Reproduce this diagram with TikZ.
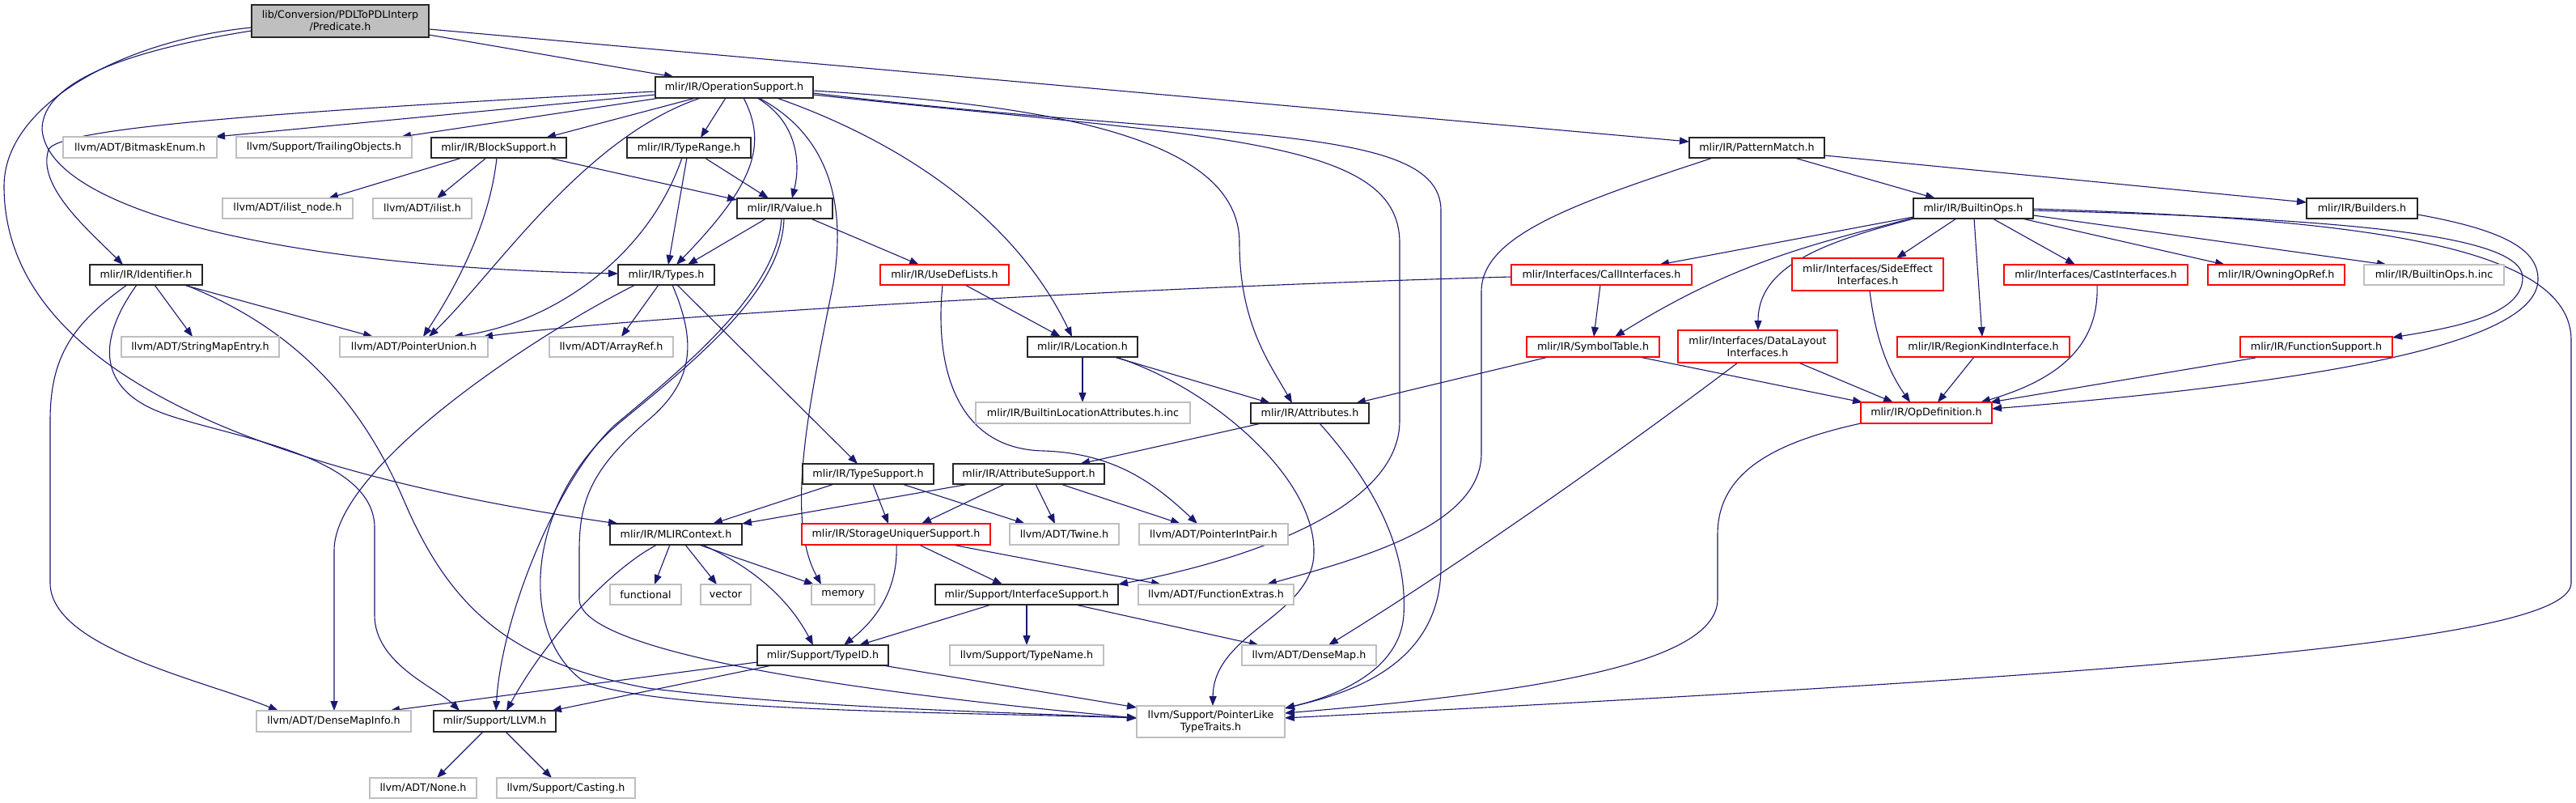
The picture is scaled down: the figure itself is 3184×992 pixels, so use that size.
\documentclass[tikz,border=0pt]{standalone}
\usepackage{fontspec}
\setmainfont{DejaVu Sans}
\usetikzlibrary{arrows.meta}
\definecolor{edgec}{HTML}{191970}
\definecolor{grayb}{HTML}{BFBFBF}
\definecolor{redb}{HTML}{FF0000}
\pgfdeclarelayer{bg}
\pgfsetlayers{bg,main}
\newcommand{\mkbox}[7]{\node[#6, minimum width={(#4-#2)*1pt}, minimum height={(#5-#3)*1pt}] (#1) at ({(#2+#4)/2},{(#3+#5)/2}) {#7};}
\tikzset{
  nbase/.style={rectangle, inner sep=0pt, outer sep=0pt, line width=1.2pt, fill=white,
    font=\fontsize{12.7}{15}\selectfont, align=center, text=black},
  blk/.style={nbase, draw=black!85},
  gry/.style={nbase, draw=grayb},
  redbox/.style={nbase, draw=redb},
  root/.style={nbase, draw=black!85, fill=grayb},
  e/.style={draw=edgec, line width=1.1pt, -{Triangle[length=12pt,width=9pt]}}
}
\begin{document}
\begin{tikzpicture}[x=1pt,y=-1pt]
\useasboundingbox (0,0) rectangle (3184,992);
\begin{pgfonlayer}{bg}
\fill[white] (0,0) rectangle (3184,992);
\end{pgfonlayer}
\mkbox{P}{311}{6}{530}{46}{root}{lib/Conversion/PDLToPDLInterp\\/Predicate.h}
\mkbox{OS}{810}{95}{1005}{121}{blk}{mlir/IR/OperationSupport.h}
\mkbox{PM}{2088}{170}{2255}{195}{blk}{mlir/IR/PatternMatch.h}
\mkbox{BME}{78}{169}{268}{195}{gry}{llvm/ADT/BitmaskEnum.h}
\mkbox{TO}{292}{169}{509}{195}{gry}{llvm/Support/TrailingObjects.h}
\mkbox{BS}{533}{170}{700}{195}{blk}{mlir/IR/BlockSupport.h}
\mkbox{TR}{775}{170}{928}{195}{blk}{mlir/IR/TypeRange.h}
\mkbox{ILN}{275}{245}{436}{270}{gry}{llvm/ADT/ilist\_node.h}
\mkbox{IL}{461}{245}{583}{270}{gry}{llvm/ADT/ilist.h}
\mkbox{VAL}{911}{245}{1029}{270}{blk}{mlir/IR/Value.h}
\mkbox{BO}{2365}{245}{2513}{270}{blk}{mlir/IR/BuiltinOps.h}
\mkbox{BLD}{2851}{245}{2988}{270}{blk}{mlir/IR/Builders.h}
\mkbox{ID}{111}{327}{250}{352}{blk}{mlir/IR/Identifier.h}
\mkbox{TY}{764}{327}{883}{352}{blk}{mlir/IR/Types.h}
\mkbox{UDL}{1088}{327}{1247}{352}{redbox}{mlir/IR/UseDefLists.h}
\mkbox{CI}{1868}{327}{2091}{352}{redbox}{mlir/Interfaces/CallInterfaces.h}
\mkbox{SE}{2215}{319}{2402}{359}{redbox}{mlir/Interfaces/SideEffect\\Interfaces.h}
\mkbox{CAST}{2477}{327}{2704}{352}{redbox}{mlir/Interfaces/CastInterfaces.h}
\mkbox{OOR}{2729}{327}{2898}{352}{redbox}{mlir/IR/OwningOpRef.h}
\mkbox{BOI}{2922}{327}{3095}{352}{gry}{mlir/IR/BuiltinOps.h.inc}
\mkbox{SME}{150}{416}{345}{441}{gry}{llvm/ADT/StringMapEntry.h}
\mkbox{PU}{420}{416}{603}{441}{gry}{llvm/ADT/PointerUnion.h}
\mkbox{AR}{679}{416}{832}{441}{gry}{llvm/ADT/ArrayRef.h}
\mkbox{LOC}{1270}{416}{1406}{441}{blk}{mlir/IR/Location.h}
\mkbox{ST}{1887}{416}{2051}{441}{redbox}{mlir/IR/SymbolTable.h}
\mkbox{DL}{2074}{408}{2271}{448}{redbox}{mlir/Interfaces/DataLayout\\Interfaces.h}
\mkbox{RK}{2345}{416}{2558}{441}{redbox}{mlir/IR/RegionKindInterface.h}
\mkbox{FS}{2769}{416}{2957}{441}{redbox}{mlir/IR/FunctionSupport.h}
\mkbox{BLA}{1206}{497}{1471}{523}{gry}{mlir/IR/BuiltinLocationAttributes.h.inc}
\mkbox{ATTR}{1546}{498}{1692}{523}{blk}{mlir/IR/Attributes.h}
\mkbox{OD}{2300}{497}{2462}{523}{redbox}{mlir/IR/OpDefinition.h}
\mkbox{TS}{992}{573}{1154}{598}{blk}{mlir/IR/TypeSupport.h}
\mkbox{AS}{1178}{573}{1365}{598}{blk}{mlir/IR/AttributeSupport.h}
\mkbox{MC}{754}{647}{917}{673}{blk}{mlir/IR/MLIRContext.h}
\mkbox{SU}{991}{647}{1224}{673}{redbox}{mlir/IR/StorageUniquerSupport.h}
\mkbox{TW}{1248}{647}{1383}{673}{gry}{llvm/ADT/Twine.h}
\mkbox{PIP}{1408}{647}{1592}{673}{gry}{llvm/ADT/PointerIntPair.h}
\mkbox{FUN}{754}{722}{842}{747}{gry}{functional}
\mkbox{VEC}{866}{722}{928}{747}{gry}{vector}
\mkbox{MEM}{1003}{722}{1081}{747}{gry}{memory}
\mkbox{IS}{1156}{722}{1382}{747}{blk}{mlir/Support/InterfaceSupport.h}
\mkbox{FE}{1407}{722}{1599}{747}{gry}{llvm/ADT/FunctionExtras.h}
\mkbox{TID}{936}{797}{1098}{822}{blk}{mlir/Support/TypeID.h}
\mkbox{TN}{1174}{797}{1364}{822}{gry}{llvm/Support/TypeName.h}
\mkbox{DM}{1535}{797}{1701}{822}{gry}{llvm/ADT/DenseMap.h}
\mkbox{DMI}{317}{878}{508}{904}{gry}{llvm/ADT/DenseMapInfo.h}
\mkbox{LLVM}{536}{878}{687}{904}{blk}{mlir/Support/LLVM.h}
\mkbox{TT}{1405}{872}{1588}{911}{gry}{llvm/Support/PointerLike\\TypeTraits.h}
\mkbox{NONE}{457}{961}{589}{986}{gry}{llvm/ADT/None.h}
\mkbox{CAS}{614}{961}{785}{986}{gry}{llvm/Support/Casting.h}
\begin{pgfonlayer}{bg}
% Predicate
\draw[e] ([shift={(219,37)}]P.north west) -- ([shift={(23,0)}]OS.north west);
\draw[e] ([shift={(219,30)}]P.north west) -- ([shift={(0,5)}]PM.north west);
\draw[e] ([shift={(0,32)}]P.north west) .. controls (160,62) and (52,100) .. (52,160) .. controls (60,260) and (350,330) .. ([shift={(0,11)}]TY.north west);
\draw[e] ([shift={(0,28)}]P.north west) .. controls (150,50) and (5,130) .. (5,230) .. controls (5,450) and (300,580) .. ([shift={(10,0)}]MC.north west);
% OperationSupport
\draw[e] ([shift={(0,22)}]OS.north west) -- ([shift={(188,0)}]BME.north west);
\draw[e] ([shift={(6,26)}]OS.north west) -- ([shift={(204,0)}]TO.north west);
\draw[e] ([shift={(0,18)}]OS.north west) .. controls (300,140) and (70,160) .. (60,185) .. controls (45,230) and (110,285) .. ([shift={(41,0)}]ID.north west);
\draw[e] ([shift={(50,26)}]OS.north west) -- ([shift={(142,0)}]BS.north west);
\draw[e] ([shift={(56,26)}]OS.north west) .. controls (720,170) and (610,340) .. ([shift={(110,0)}]PU.north west);
\draw[e] ([shift={(87,26)}]OS.north west) -- ([shift={(91,0)}]TR.north west);
\draw[e] ([shift={(109,26)}]OS.north west) .. controls (950,180) and (930,230) .. ([shift={(72,0)}]TY.north west);
\draw[e] ([shift={(126,26)}]OS.north west) .. controls (985,150) and (990,200) .. ([shift={(68,0)}]VAL.north west);
\draw[e] ([shift={(128,26)}]OS.north west) .. controls (1030,170) and (1045,260) .. (1030,350) .. controls (1000,500) and (970,640) .. ([shift={(12,0)}]MEM.north west);
\draw[e] ([shift={(150,26)}]OS.north west) .. controls (1100,170) and (1250,260) .. ([shift={(55,0)}]LOC.north west);
\draw[e] ([shift={(195,17)}]OS.north west) .. controls (1300,130) and (1532,170) .. (1532,300) .. controls (1532,400) and (1570,450) .. ([shift={(51,0)}]ATTR.north west);
\draw[e] ([shift={(195,22)}]OS.north west) .. controls (1500,170) and (1730,170) .. (1730,300) -- (1730,520) .. controls (1730,640) and (1500,700) .. (IS.north east);
\draw[e] ([shift={(195,20)}]OS.north west) .. controls (1500,175) and (1781,150) .. (1781,260) -- (1781,700) .. controls (1781,830) and (1650,860) .. ([shift={(183,3)}]TT.north west);
% BlockSupport, TypeRange
\draw[e] ([shift={(38,25)}]BS.north west) -- ([shift={(131,0)}]ILN.north west);
\draw[e] ([shift={(68,25)}]BS.north west) -- ([shift={(79,0)}]IL.north west);
\draw[e] ([shift={(81,25)}]BS.north west) .. controls (605,280) and (560,360) .. ([shift={(103,0)}]PU.north west);
\draw[e] ([shift={(145,25)}]BS.north west) -- ([shift={(0,2)}]VAL.north west);
\draw[e] ([shift={(74,25)}]TR.north west) -- ([shift={(62,0)}]TY.north west);
\draw[e] ([shift={(96,25)}]TR.north west) -- ([shift={(39,0)}]VAL.north west);
\draw[e] ([shift={(68,25)}]TR.north west) .. controls (800,320) and (680,400) .. ([shift={(140,0)}]PU.north west);
% Value
\draw[e] ([shift={(36,25)}]VAL.north west) -- ([shift={(86,0)}]TY.north west);
\draw[e] ([shift={(91,25)}]VAL.north west) -- ([shift={(48,0)}]UDL.north west);
\draw[e] ([shift={(55,25)}]VAL.north west) .. controls (960,360) and (850,450) .. (760,525) .. controls (690,590) and (620,760) .. ([shift={(77,0)}]LLVM.north west);
\draw[e] ([shift={(58,25)}]VAL.north west) .. controls (967,360) and (856,448) .. (766,522) .. controls (650,620) and (640,780) .. (719,840) .. controls (800,880) and (1200,880) .. ([shift={(0,15)}]TT.north west);
% Types
\draw[e] ([shift={(50,25)}]TY.north west) -- ([shift={(89,0)}]AR.north west);
\draw[e] ([shift={(21,25)}]TY.north west) .. controls (650,420) and (413,580) .. (413,680) -- ([shift={(96,0)}]DMI.north west);
\draw[e] ([shift={(67,25)}]TY.north west) .. controls (860,420) and (860,470) .. (800,520) .. controls (730,580) and (716,620) .. (716,680) -- (716,740) .. controls (716,800) and (1000,850) .. ([shift={(0,15)}]TT.north west);
\draw[e] ([shift={(73,25)}]TY.north west) -- ([shift={(68,0)}]TS.north west);
% Identifier
\draw[e] ([shift={(80,25)}]ID.north west) -- ([shift={(88,0)}]SME.north west);
\draw[e] ([shift={(116,25)}]ID.north west) -- ([shift={(41,0)}]PU.north west);
\draw[e] ([shift={(46,25)}]ID.north west) .. controls (90,400) and (62,440) .. (62,520) -- (62,720) .. controls (62,800) and (250,840) .. ([shift={(27,0)}]DMI.north west);
\draw[e] ([shift={(58,25)}]ID.north west) .. controls (120,420) and (120,480) .. (200,510) .. controls (280,540) and (460,560) .. (463,650) -- (463,760) .. controls (463,820) and (540,850) .. ([shift={(32,0)}]LLVM.north west);
\draw[e] ([shift={(118,25)}]ID.north west) .. controls (350,400) and (440,480) .. (500,620) .. controls (560,760) and (640,820) .. (800,850) .. controls (1000,875) and (1250,880) .. ([shift={(0,15)}]TT.north west);
% MLIRContext
\draw[e] ([shift={(74,26)}]MC.north west) -- ([shift={(55,0)}]FUN.north west);
\draw[e] ([shift={(93,26)}]MC.north west) -- ([shift={(20,0)}]VEC.north west);
\draw[e] ([shift={(110,26)}]MC.north west) -- ([shift={(3,0)}]MEM.north west);
\draw[e] ([shift={(114,26)}]MC.north west) .. controls (930,700) and (975,740) .. ([shift={(69,0)}]TID.north west);
\draw[e] ([shift={(58,26)}]MC.north west) .. controls (760,700) and (680,780) .. ([shift={(90,0)}]LLVM.north west);
% TypeSupport, AttributeSupport
\draw[e] ([shift={(39,25)}]TS.north west) -- ([shift={(127,0)}]MC.north west);
\draw[e] ([shift={(87,25)}]TS.north west) -- ([shift={(107,0)}]SU.north west);
\draw[e] ([shift={(123,25)}]TS.north west) -- ([shift={(19,0)}]TW.north west);
\draw[e] ([shift={(20,25)}]AS.north west) -- (MC.north east);
\draw[e] ([shift={(64,25)}]AS.north west) -- ([shift={(148,0)}]SU.north west);
\draw[e] ([shift={(102,25)}]AS.north west) -- ([shift={(56,0)}]TW.north west);
\draw[e] ([shift={(133,25)}]AS.north west) -- ([shift={(51,0)}]PIP.north west);
% StorageUniquer, InterfaceSupport, TypeID, LLVM
\draw[e] ([shift={(145,26)}]SU.north west) -- ([shift={(83,0)}]IS.north west);
\draw[e] ([shift={(186,26)}]SU.north west) -- ([shift={(28,0)}]FE.north west);
\draw[e] ([shift={(117,26)}]SU.north west) .. controls (1110,720) and (1090,760) .. ([shift={(107,0)}]TID.north west);
\draw[e] ([shift={(69,25)}]IS.north west) -- ([shift={(126,0)}]TID.north west);
\draw[e] ([shift={(113,25)}]IS.north west) -- ([shift={(95,0)}]TN.north west);
\draw[e] ([shift={(173,25)}]IS.north west) -- ([shift={(21,0)}]DM.north west);
\draw[e] ([shift={(18,25)}]TID.north west) -- ([shift={(146,0)}]LLVM.north west);
\draw[e] ([shift={(0,21)}]TID.north west) -- ([shift={(165,0)}]DMI.north west);
\draw[e] ([shift={(155,25)}]TID.north west) -- ([shift={(0,2)}]TT.north west);
\draw[e] ([shift={(61,26)}]LLVM.north west) -- ([shift={(83,0)}]NONE.north west);
\draw[e] ([shift={(89,26)}]LLVM.north west) -- ([shift={(68,0)}]CAS.north west);
% UseDefLists, Location, Attributes
\draw[e] ([shift={(105,25)}]UDL.north west) -- ([shift={(41,0)}]LOC.north west);
\draw[e] ([shift={(77,25)}]UDL.north west) .. controls (1155,450) and (1180,555) .. (1290,557) .. controls (1380,560) and (1430,600) .. ([shift={(72,0)}]PIP.north west);
\draw[e] ([shift={(68,25)}]LOC.north west) -- ([shift={(132,0)}]BLA.north west);
\draw[e] ([shift={(107,25)}]LOC.north west) -- ([shift={(24,0)}]ATTR.north west);
\draw[e] ([shift={(109,25)}]LOC.north west) .. controls (1500,480) and (1624,590) .. (1624,680) .. controls (1626,760) and (1500,780) .. ([shift={(94,0)}]TT.north west);
\draw[e] ([shift={(13,25)}]ATTR.north west) -- ([shift={(157,0)}]AS.north west);
\draw[e] ([shift={(85,25)}]ATTR.north west) .. controls (1700,600) and (1740,680) .. (1735,760) .. controls (1730,830) and (1650,860) .. ([shift={(183,3)}]TT.north west);
% PatternMatch
\draw[e] ([shift={(130,25)}]PM.north west) -- ([shift={(27,0)}]BO.north west);
\draw[e] ([shift={(167,22)}]PM.north west) -- ([shift={(0,5)}]BLD.north west);
\draw[e] ([shift={(29,25)}]PM.north west) .. controls (1950,250) and (1831,290) .. (1831,360) -- (1831,560) .. controls (1831,650) and (1680,690) .. ([shift={(159,0)}]FE.north west);
% BuiltinOps
\draw[e] ([shift={(0,23)}]BO.north west) -- ([shift={(183,0)}]CI.north west);
\draw[e] ([shift={(0,24)}]BO.north west) .. controls (2250,300) and (2150,320) .. ([shift={(109,0)}]ST.north west);
\draw[e] ([shift={(1,25)}]BO.north west) .. controls (2250,300) and (2173,330) .. ([shift={(99,0)}]DL.north west);
\draw[e] ([shift={(53,25)}]BO.north west) -- ([shift={(129,0)}]SE.north west);
\draw[e] ([shift={(75,25)}]BO.north west) -- ([shift={(105,0)}]RK.north west);
\draw[e] ([shift={(98,25)}]BO.north west) -- ([shift={(88,0)}]CAST.north west);
\draw[e] ([shift={(134,25)}]BO.north west) -- ([shift={(21,0)}]OOR.north west);
\draw[e] ([shift={(148,21)}]BO.north west) -- ([shift={(28,0)}]BOI.north west);
\draw[e] ([shift={(148,15)}]BO.north west) .. controls (2900,270) and (3118,290) .. (3118,343) .. controls (3118,390) and (3030,405) .. ([shift={(188,1)}]FS.north west);
\draw[e] ([shift={(148,13)}]BO.north west) .. controls (2900,270) and (3178,300) .. (3178,420) -- (3178,720) .. controls (3178,790) and (2700,830) .. ([shift={(183,15)}]TT.north west);
% Builders and interfaces
\draw[e] ([shift={(137,20)}]BLD.north west) .. controls (3100,285) and (3137,310) .. (3137,345) .. controls (3137,420) and (2900,470) .. ([shift={(162,8)}]OD.north west);
\draw[e] ([shift={(110,25)}]CI.north west) -- ([shift={(83,0)}]ST.north west);
\draw[e] ([shift={(0,15)}]CI.north west) .. controls (1400,355) and (800,390) .. ([shift={(177,0)}]PU.north west);
\draw[e] ([shift={(27,25)}]ST.north west) -- ([shift={(130,0)}]ATTR.north west);
\draw[e] ([shift={(139,25)}]ST.north west) -- ([shift={(2,0)}]OD.north west);
\draw[e] ([shift={(74,40)}]DL.north west) .. controls (2000,560) and (1800,700) .. ([shift={(107,0)}]DM.north west);
\draw[e] ([shift={(149,40)}]DL.north west) -- ([shift={(40,0)}]OD.north west);
\draw[e] ([shift={(96,40)}]SE.north west) .. controls (2318,420) and (2335,460) .. ([shift={(61,0)}]OD.north west);
\draw[e] ([shift={(95,25)}]RK.north west) -- ([shift={(95,0)}]OD.north west);
\draw[e] ([shift={(115,25)}]CAST.north west) .. controls (2595,430) and (2540,470) .. ([shift={(148,0)}]OD.north west);
\draw[e] ([shift={(19,26)}]FS.north west) -- ([shift={(160,0)}]OD.north west);
\draw[e] ([shift={(0,26)}]OD.north west) .. controls (2200,545) and (2123,580) .. (2123,660) -- (2123,740) .. controls (2123,820) and (1900,855) .. ([shift={(183,9)}]TT.north west);
\end{pgfonlayer}
\end{tikzpicture}
\end{document}
